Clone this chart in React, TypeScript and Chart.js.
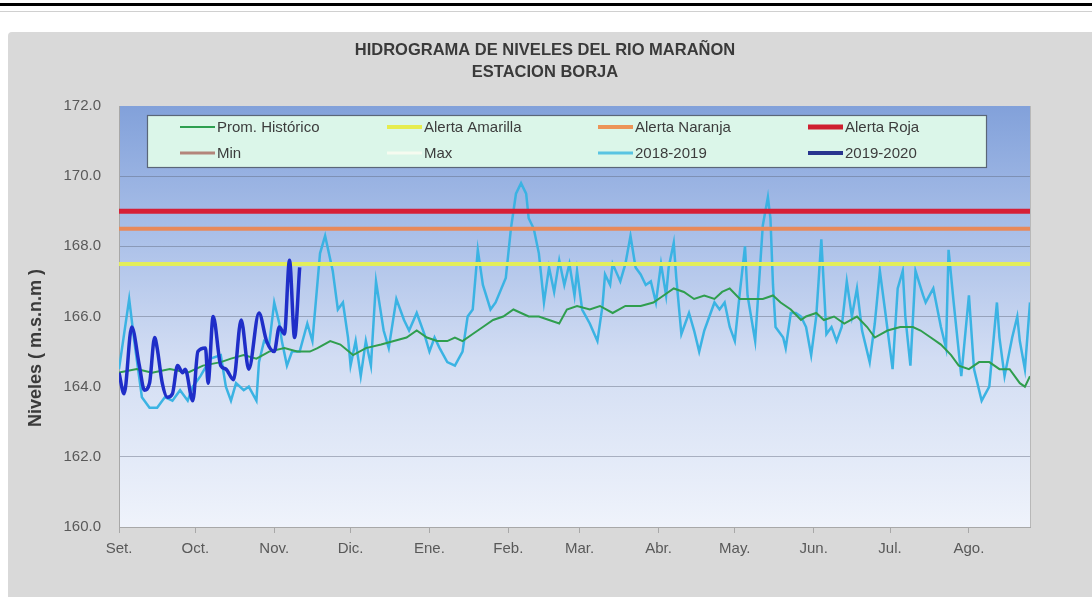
import React, { useEffect, useRef } from 'react';
import { Chart, registerables } from 'chart.js';

Chart.register(...registerables);

const FONT = '"Liberation Sans", Arial, sans-serif';

// ---- axis definitions (days since 1 Sep) ----
const xMin = 0;
const xMax = 358;
const monthStarts = [0, 30, 61, 91, 122, 153, 181, 212, 242, 273, 303, 334];
const monthLabels = ['Set.', 'Oct.', 'Nov.', 'Dic.', 'Ene.', 'Feb.', 'Mar.', 'Abr.', 'May.', 'Jun.', 'Jul.', 'Ago.'];
const yMin = 160;
const yMax = 172;
const yStep = 2;

// ---- alert thresholds (m.s.n.m) ----
const alertaAmarilla = 167.5;
const alertaNaranja = 168.5;
const alertaRoja = 169.0;

// ---- Prom. Histórico ----
const promDays = [0, 7, 13, 20, 27, 33, 40, 44, 49, 54, 59, 65, 70, 75, 78, 83, 87, 92, 97, 103, 108, 113, 117, 121, 125, 129, 132, 135, 139, 143, 147, 151, 155, 158, 161, 165, 169, 173, 176, 180, 185, 189, 194, 199, 205, 210, 214, 218, 222, 226, 230, 234, 237, 240, 244, 248, 253, 257, 260, 264, 268, 270, 274, 277, 281, 285, 290, 294, 297, 302, 307, 312, 315, 319, 323, 327, 330, 334, 338, 342, 346, 350, 354, 356, 358];
const promLevels = [164.4, 164.5, 164.4, 164.5, 164.4, 164.6, 164.7, 164.8, 164.9, 164.8, 165.0, 165.1, 165.0, 165.0, 165.1, 165.3, 165.2, 164.9, 165.1, 165.2, 165.3, 165.4, 165.6, 165.4, 165.3, 165.3, 165.4, 165.3, 165.5, 165.7, 165.9, 166.0, 166.2, 166.1, 166.0, 166.0, 165.9, 165.8, 166.2, 166.3, 166.2, 166.3, 166.1, 166.3, 166.3, 166.4, 166.6, 166.8, 166.7, 166.5, 166.6, 166.5, 166.7, 166.8, 166.5, 166.5, 166.5, 166.6, 166.4, 166.2, 165.9, 166.0, 166.1, 165.9, 166.0, 165.8, 166.0, 165.7, 165.4, 165.6, 165.7, 165.7, 165.6, 165.4, 165.2, 164.9, 164.6, 164.5, 164.7, 164.7, 164.5, 164.5, 164.1, 164.0, 164.3];

// ---- 2018-2019 ----
const s1819Days = [0, 4, 6, 9, 12, 15, 18, 21, 24, 27, 29, 32, 36, 40, 42, 44, 46, 49, 51, 54, 55, 57, 59, 61, 63, 64, 66, 68, 71, 74, 76, 79, 81, 84, 86, 88, 90, 91, 93, 95, 97, 99, 101, 104, 106, 109, 112, 114, 117, 120, 122, 124, 126, 129, 132, 135, 137, 139, 141, 143, 146, 148, 152, 154, 156, 158, 160, 161, 163, 165, 167, 169, 171, 173, 175, 177, 179, 180, 182, 185, 188, 190, 191, 193, 194, 197, 199, 201, 203, 205, 207, 209, 211, 213, 215, 216, 218, 219, 221, 224, 226, 228, 230, 232, 234, 236, 238, 240, 242, 244, 246, 247, 250, 252, 253, 255, 256, 257, 258, 261, 262, 264, 266, 268, 270, 272, 274, 276, 278, 280, 282, 284, 286, 288, 290, 292, 295, 297, 299, 301, 304, 306, 308, 309, 311, 313, 316, 317, 320, 323, 325, 326, 328, 331, 334, 336, 339, 342, 345, 346, 348, 351, 353, 354, 356, 358];
const s1819Levels = [164.5, 166.5, 165.3, 163.7, 163.4, 163.4, 163.7, 163.6, 163.9, 163.6, 164.0, 164.3, 164.8, 164.9, 164.0, 163.6, 164.1, 163.9, 164.0, 163.6, 164.7, 165.3, 165.2, 166.4, 165.8, 165.3, 164.6, 165.0, 165.0, 165.8, 165.3, 167.8, 168.3, 167.3, 166.2, 166.4, 165.4, 164.6, 165.3, 164.3, 165.3, 164.6, 167.0, 165.6, 165.1, 166.5, 165.9, 165.6, 166.1, 165.5, 165.0, 165.4, 165.1, 164.7, 164.6, 165.0, 166.0, 166.2, 167.9, 166.9, 166.2, 166.4, 167.1, 168.5, 169.5, 169.8, 169.5, 168.8, 168.5, 167.8, 166.4, 167.4, 166.7, 167.6, 166.9, 167.5, 166.6, 167.3, 166.2, 165.8, 165.3, 166.3, 167.2, 166.9, 167.5, 167.0, 167.5, 168.3, 167.4, 167.2, 166.9, 167.0, 166.4, 167.5, 166.6, 167.4, 168.1, 167.1, 165.5, 166.1, 165.6, 165.0, 165.6, 166.0, 166.4, 166.2, 166.4, 165.7, 165.3, 166.7, 168.0, 166.6, 165.3, 167.5, 168.6, 169.4, 168.8, 166.9, 165.7, 165.4, 165.1, 166.1, 166.1, 166.0, 165.7, 164.9, 166.0, 168.2, 165.5, 165.7, 165.3, 165.7, 167.0, 166.0, 166.8, 165.6, 164.7, 165.8, 167.3, 166.2, 164.5, 166.8, 167.3, 166.0, 164.6, 167.3, 166.6, 166.4, 166.8, 165.7, 165.1, 167.9, 166.4, 164.3, 166.6, 164.5, 163.6, 164.0, 166.4, 165.4, 164.3, 165.4, 166.0, 165.3, 164.5, 166.4];

// ---- 2019-2020 ----
const s1920Days = [0, 2, 5, 8, 10, 12, 14, 15, 17, 19, 21, 23, 25, 26, 29, 31, 34, 35, 37, 40, 42, 45, 48, 51, 55, 58, 61, 63, 65, 67, 69, 71];
const s1920Levels = [164.4, 163.8, 165.7, 164.6, 163.9, 164.1, 165.4, 165.1, 164.1, 163.7, 163.8, 164.6, 164.4, 164.5, 163.6, 165.0, 165.1, 164.1, 166.0, 164.6, 164.5, 164.2, 165.9, 164.5, 166.1, 165.3, 165.0, 165.7, 165.5, 167.6, 165.4, 167.4];

// ---- Min / Max (no values drawn in the chart) ----
const minDays: number[] = [];
const minLevels: number[] = [];
const maxDays: number[] = [];
const maxLevels: number[] = [];

const titleLines = ['HIDROGRAMA DE NIVELES DEL RIO MARAÑON', 'ESTACION BORJA'];
const yAxisTitle = 'Niveles ( m.s.n.m )';

const pts = (days: number[], vals: number[]) => days.map((d, i) => ({ x: d, y: vals[i] }));
const flat = (v: number) => [{ x: xMin, y: v }, { x: xMax, y: v }];

const legendRows = [
  [
    { label: 'Prom. Histórico', color: '#2e9f50', width: 2 },
    { label: 'Alerta Amarilla', color: '#e6ec4e', width: 4 },
    { label: 'Alerta Naranja', color: '#ec9458', width: 4 },
    { label: 'Alerta Roja', color: '#cf1f30', width: 5 },
  ],
  [
    { label: 'Min', color: '#b3857a', width: 3 },
    { label: 'Max', color: '#f6fbf0', width: 3 },
    { label: '2018-2019', color: '#59c4e2', width: 3 },
    { label: '2019-2020', color: '#28358e', width: 4 },
  ],
];

const decorPlugin = {
  id: 'decor',
  beforeDraw(chart: any) {
    const { ctx, chartArea: a } = chart;
    const g = ctx.createLinearGradient(0, a.top, 0, a.bottom);
    g.addColorStop(0, '#82a1da');
    g.addColorStop(0.3, '#a9bfe8');
    g.addColorStop(0.6, '#d2ddf3');
    g.addColorStop(1, '#eff3fb');
    ctx.save();
    ctx.fillStyle = g;
    ctx.fillRect(a.left, a.top, a.right - a.left, a.bottom - a.top);
    ctx.restore();
  },
  afterDatasetsDraw(chart: any) {
    const { ctx, chartArea: a } = chart;
    ctx.save();
    ctx.strokeStyle = '#b8b8b8';
    ctx.lineWidth = 1;
    ctx.beginPath();
    ctx.moveTo(a.right + 0.5, a.top);
    ctx.lineTo(a.right + 0.5, a.bottom);
    ctx.stroke();

    const bx = a.left + 28;
    const by = a.top + 9;
    const bw = 839;
    const bh = 52;
    ctx.fillStyle = '#dbf6e9';
    ctx.fillRect(bx, by, bw, bh);
    ctx.strokeStyle = '#5a6678';
    ctx.lineWidth = 1.2;
    ctx.strokeRect(bx + 0.5, by + 0.5, bw, bh);

    const colX = [33, 240, 451, 661];
    const rowY = [12, 38];
    ctx.font = `15px ${FONT}`;
    ctx.textBaseline = 'middle';
    ctx.textAlign = 'left';
    legendRows.forEach((row, r) => {
      row.forEach((it, c) => {
        const x = bx + colX[c];
        const y = by + rowY[r];
        ctx.strokeStyle = it.color;
        ctx.lineWidth = it.width;
        ctx.beginPath();
        ctx.moveTo(x, y);
        ctx.lineTo(x + 35, y);
        ctx.stroke();
        ctx.fillStyle = '#3c3c3c';
        ctx.fillText(it.label, x + 37, y + 1);
      });
    });
    ctx.restore();
  },
  afterDraw(chart: any) {
    const { ctx } = chart;
    ctx.save();
    ctx.fillStyle = '#3a3a3a';
    ctx.textAlign = 'center';
    ctx.textBaseline = 'middle';
    ctx.font = `bold 16.5px ${FONT}`;
    ctx.fillText(titleLines[0], 537, 18);
    ctx.fillText(titleLines[1], 537, 40);
    ctx.translate(28, 316);
    ctx.rotate(-Math.PI / 2);
    ctx.font = `bold 18px ${FONT}`;
    ctx.fillStyle = '#3a3a3a';
    ctx.fillText(yAxisTitle, 0, 0);
    ctx.restore();
  },
};

export default function App() {
  const ref = useRef<HTMLCanvasElement>(null);

  useEffect(() => {
    if (!ref.current) return;
    const chart = new Chart(ref.current, {
      type: 'line',
      data: {
        datasets: [
          {
            label: '2019-2020',
            data: pts(s1920Days, s1920Levels),
            borderColor: '#1f2ec8',
            borderWidth: 3.5,
            cubicInterpolationMode: 'monotone',
            pointRadius: 0,
            order: 0,
          },
          {
            label: 'Alerta Roja',
            data: flat(alertaRoja),
            borderColor: '#d61f37',
            borderWidth: 5,
            pointRadius: 0,
            order: 1,
          },
          {
            label: 'Alerta Naranja',
            data: flat(alertaNaranja),
            borderColor: '#e8895a',
            borderWidth: 4,
            pointRadius: 0,
            order: 1,
          },
          {
            label: 'Alerta Amarilla',
            data: flat(alertaAmarilla),
            borderColor: '#e2ee5a',
            borderWidth: 4,
            pointRadius: 0,
            order: 1,
          },
          {
            label: 'Min',
            data: pts(minDays, minLevels),
            borderColor: '#b3857a',
            borderWidth: 2,
            pointRadius: 0,
            order: 2,
          },
          {
            label: 'Max',
            data: pts(maxDays, maxLevels),
            borderColor: '#ffffff',
            borderWidth: 2,
            pointRadius: 0,
            order: 2,
          },
          {
            label: 'Prom. Histórico',
            data: pts(promDays, promLevels),
            borderColor: '#2f9e4e',
            borderWidth: 2,
            tension: 0,
            pointRadius: 0,
            order: 2,
          },
          {
            label: '2018-2019',
            data: pts(s1819Days, s1819Levels),
            borderColor: '#3bb3e3',
            borderWidth: 2.5,
            tension: 0,
            pointRadius: 0,
            order: 3,
          },
        ],
      },
      options: {
        responsive: false,
        animation: false,
        layout: { padding: { left: 14, right: 62, top: 74, bottom: 0 } },
        plugins: {
          legend: { display: false },
          title: { display: false },
          tooltip: { enabled: false },
        },
        scales: {
          x: {
            type: 'linear',
            min: xMin,
            max: xMax,
            afterBuildTicks: (scale: any) => {
              scale.ticks = monthStarts.map((v) => ({ value: v }));
            },
            afterFit: (scale: any) => {
              scale.height = 70;
            },
            ticks: {
              autoSkip: false,
              maxRotation: 0,
              padding: 7,
              color: '#595959',
              font: { family: FONT, size: 15 },
              callback: (v: any) => {
                const i = monthStarts.indexOf(Number(v));
                return i >= 0 ? monthLabels[i] : '';
              },
            },
            grid: {
              drawOnChartArea: false,
              drawTicks: true,
              tickLength: 6,
              color: '#a8a8a8',
            },
            border: { display: true, color: '#a8a8a8' },
          },
          y: {
            min: yMin,
            max: yMax,
            afterFit: (scale: any) => {
              scale.width = 97;
            },
            ticks: {
              stepSize: yStep,
              padding: 18,
              color: '#595959',
              font: { family: FONT, size: 15 },
              callback: (v: any) => Number(v).toFixed(1),
            },
            grid: {
              drawTicks: false,
              color: (c: any) => (c.tick && (c.tick.value === yMax || c.tick.value === yMin) ? 'rgba(0,0,0,0)' : 'rgba(95,105,125,0.45)'),
              lineWidth: 1,
            },
            border: { display: true, color: '#a8a8a8' },
          },
        },
      },
      plugins: [decorPlugin],
    } as any);
    return () => chart.destroy();
  }, []);

  return (
    <div style={{ position: 'fixed', left: 0, top: 0, width: 1092, height: 597, background: '#ffffff', overflow: 'hidden' }}>
      <div style={{ position: 'absolute', left: 0, top: 3, width: 1092, height: 3, background: '#000000' }} />
      <div style={{ position: 'absolute', left: 0, top: 11, width: 1092, height: 1, background: '#d0d0d0' }} />
      <div style={{ position: 'absolute', left: 8, top: 32, width: 1084, height: 565, background: '#d9d9d9', borderTopLeftRadius: 4 }}>
        <canvas ref={ref} width={1084} height={565} style={{ display: 'block' }} />
      </div>
    </div>
  );
}
